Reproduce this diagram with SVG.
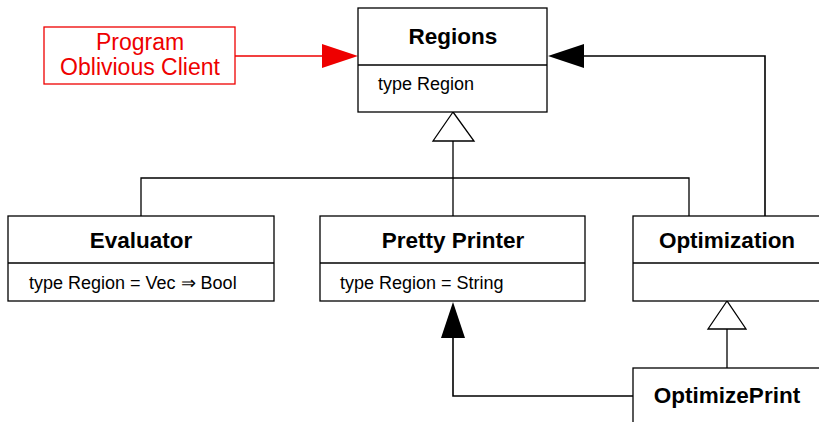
<svg xmlns="http://www.w3.org/2000/svg" width="819" height="422" viewBox="0 0 819 422">
  <defs>
    <style>
      .box { fill: #fff; stroke: #000; stroke-width: 1.3; }
      .client { fill: #fff; stroke: #e00; stroke-width: 1.3; }
      .title { font-family: "Liberation Sans", Arial, sans-serif; font-weight: bold; font-size: 22.5px; text-anchor: middle; fill: #000; }
      .attr { font-family: "Liberation Sans", Arial, sans-serif; font-size: 18px; fill: #000; }
      .ctext { font-family: "Liberation Sans", Arial, sans-serif; font-size: 23px; text-anchor: middle; fill: #e00; }
      .edge { fill: none; stroke: #000; stroke-width: 1.3; }
      .gen { fill: #fff; stroke: #000; stroke-width: 1.3; }
    </style>
  </defs>

  <!-- connectors -->
  <g id="connectors">
    <!-- generalisation tree under Regions -->
    <path class="edge" d="M453 141 V216 M141 216 V178 H689 V216"/>
    <polygon class="gen" points="453,112 433,141 474,141"/>
    <!-- Optimization to Regions -->
    <path class="edge" d="M765 216 V56 H580" style="stroke-width:1.6"/>
    <polygon points="548,56 584,44 584,68" fill="#000"/>
    <!-- client to Regions -->
    <path d="M235 56 H330" fill="none" stroke="#e00" stroke-width="1.6"/>
    <polygon points="358,56 322,44 322,68" fill="#e00"/>
    <!-- OptimizePrint generalises Optimization -->
    <path class="edge" d="M727 329 V368"/>
    <polygon class="gen" points="727,301 708,329 746,329"/>
    <!-- OptimizePrint to Pretty Printer -->
    <path class="edge" d="M633 396 H453 V334" style="stroke-width:1.6"/>
    <polygon points="453,302 441,338 465,338" fill="#000"/>
  </g>

  <g id="client">
    <rect class="client" x="44" y="27" width="191" height="57"/>
    <text class="ctext" x="140" y="50">Program</text>
    <text class="ctext" x="140" y="75">Oblivious Client</text>
  </g>

  <g id="regions">
    <rect class="box" x="358" y="8" width="189" height="104"/>
    <line class="edge" x1="358" y1="65" x2="547" y2="65"/>
    <text class="title" x="453" y="44">Regions</text>
    <text class="attr" x="378" y="90">type Region</text>
  </g>

  <g id="evaluator">
    <rect class="box" x="8" y="216" width="266" height="85"/>
    <line class="edge" x1="8" y1="263" x2="274" y2="263"/>
    <text class="title" x="141" y="248">Evaluator</text>
    <text class="attr" x="29" y="289">type Region = Vec ⇒ Bool</text>
  </g>

  <g id="pretty-printer">
    <rect class="box" x="320" y="216" width="265" height="85"/>
    <line class="edge" x1="320" y1="263" x2="585" y2="263"/>
    <text class="title" x="453" y="248">Pretty Printer</text>
    <text class="attr" x="340" y="289">type Region = String</text>
  </g>

  <g id="optimization">
    <rect class="box" x="633" y="216" width="200" height="85"/>
    <line class="edge" x1="633" y1="263" x2="833" y2="263"/>
    <text class="title" x="727" y="248">Optimization</text>
  </g>

  <g id="optimize-print">
    <rect class="box" x="633" y="368" width="200" height="70"/>
    <text class="title" x="727" y="403">OptimizePrint</text>
  </g>
</svg>
